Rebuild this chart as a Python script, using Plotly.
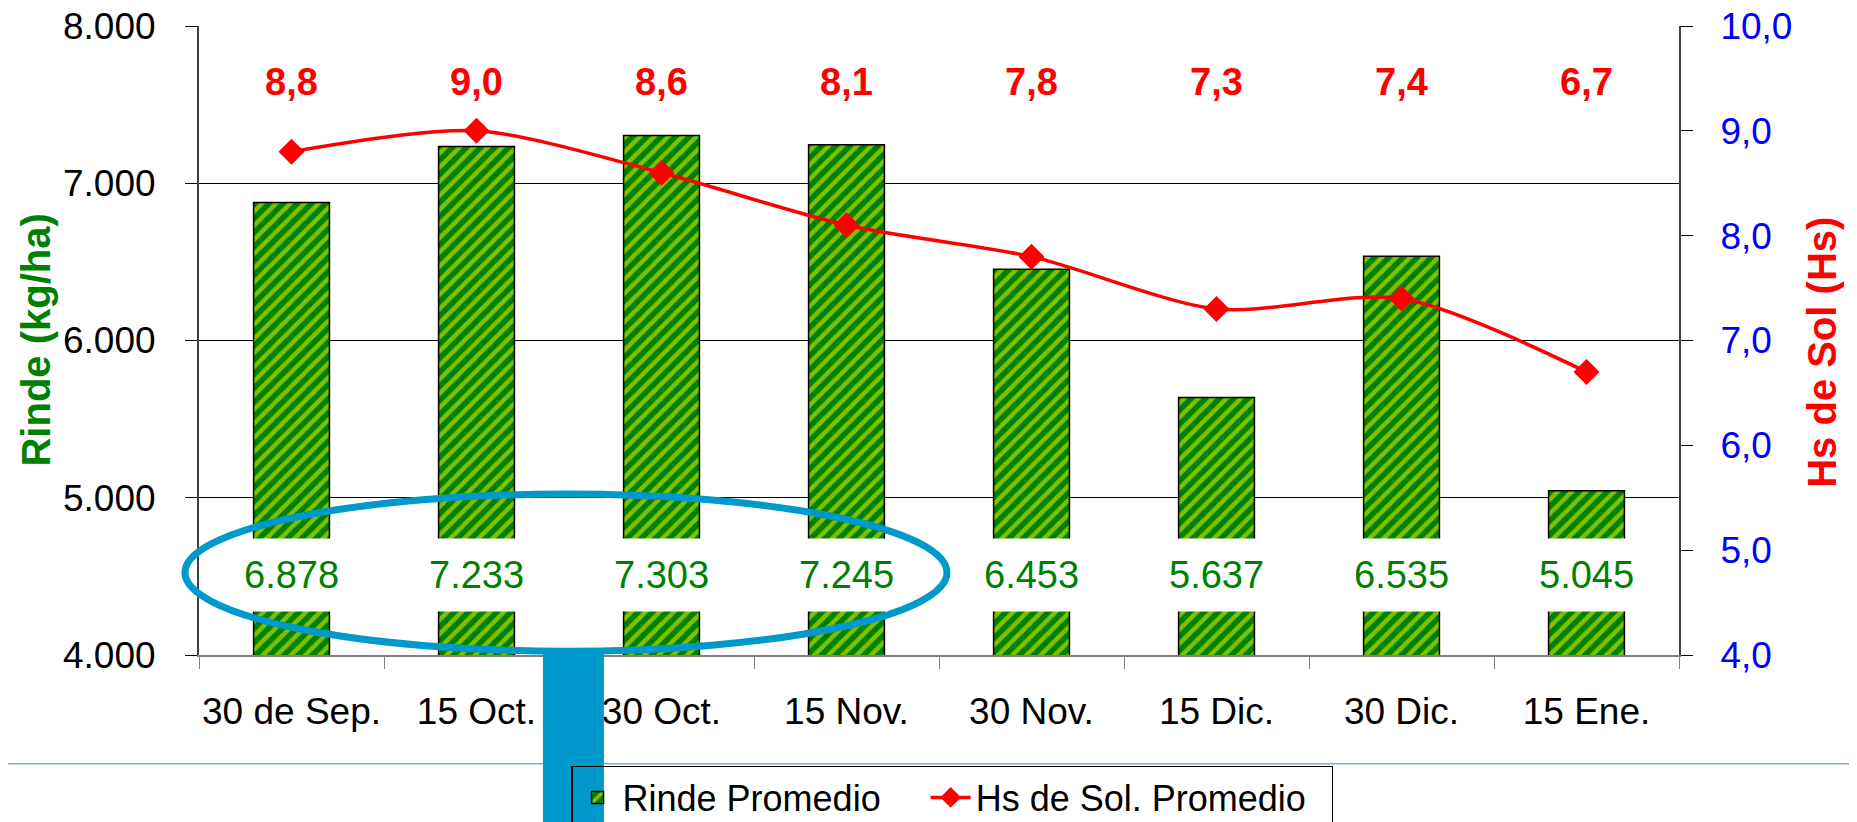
import plotly.graph_objects as go

# Datos del gráfico
fechas = ["30 de Sep.", "15 Oct.", "30 Oct.", "15 Nov.", "30 Nov.", "15 Dic.", "30 Dic.", "15 Ene."]
rinde = [6878, 7233, 7303, 7245, 6453, 5637, 6535, 5045]
horas_sol = [8.8, 9.0, 8.6, 8.1, 7.8, 7.3, 7.4, 6.7]

FONT = "Liberation Sans, Arial, sans-serif"
VERDE = "#008000"
ROJO = "#FF0000"
AZUL = "#0099CC"
NBSP = "\u00a0"

fig = go.Figure()

fig.add_bar(
    x=fechas, y=rinde, name="Rinde Promedio" + NBSP * 4,
    width=0.41,
    marker=dict(
        color=VERDE,
        line=dict(color="black", width=1.5),
        pattern=dict(shape="/", bgcolor=VERDE, fgcolor="#FFFF00", size=10, solidity=0.45),
    ),
)

fig.add_scatter(
    x=fechas, y=horas_sol, name="Hs de Sol. Promedio" + NBSP * 2, yaxis="y2",
    mode="lines+markers",
    line=dict(color=ROJO, width=3.5, shape="spline", smoothing=0.8),
    marker=dict(symbol="diamond", size=20, color=ROJO),
)

# etiquetas de rinde: recuadro blanco del ancho de la barra + texto encima
for f, v in zip(fechas, rinde):
    fig.add_annotation(
        x=f, y=4510, xref="x", yref="y", text=" ",
        showarrow=False, bgcolor="white", width=78, height=70,
    )
    fig.add_annotation(
        x=f, y=4510, xref="x", yref="y",
        text=f"{v:,}".replace(",", "."),
        showarrow=False,
        font=dict(family=FONT, size=38, color=VERDE),
    )

# etiquetas de horas de sol (arriba)
for f, h in zip(fechas, horas_sol):
    fig.add_annotation(
        x=f, y=9.47, xref="x", yref="y2",
        text=f"<b>{h:.1f}</b>".replace(".", ","),
        showarrow=False,
        font=dict(family=FONT, size=38, color=ROJO),
    )

# títulos de ejes
fig.add_annotation(
    x=-0.1108, y=0.50, xref="paper", yref="paper", textangle=-90,
    xanchor="center", yanchor="middle",
    text="<b>Rinde (kg/ha)</b>", showarrow=False,
    font=dict(family=FONT, size=40, color=VERDE),
)
fig.add_annotation(
    x=1.0966, y=0.482, xref="paper", yref="paper", textangle=-90,
    xanchor="center", yanchor="middle",
    text="<b>Hs de Sol (Hs)</b>", showarrow=False,
    font=dict(family=FONT, size=40, color=ROJO),
)

# elementos de la diapositiva: elipse, barra azul y línea
fig.add_shape(type="line", xref="paper", yref="paper",
              x0=-0.2, x1=1.3, y0=-0.173, y1=-0.173,
              line=dict(color="#7FB2C8", width=1.5))
fig.add_shape(type="circle", xref="paper", yref="paper",
              x0=-0.0095, x1=0.5054, y0=0.006, y1=0.256,
              line=dict(color=AZUL, width=7), layer="above")
fig.add_shape(type="rect", xref="paper", yref="paper",
              x0=0.2324, x1=0.2736, y0=-0.33, y1=0.0095,
              fillcolor=AZUL, line=dict(width=0), layer="above")

# la página añade 8 px de margen: figura de 1849x814
fig.update_layout(
    width=1849, height=814,
    margin=dict(l=191, r=178, t=18, b=167, autoexpand=False),
    plot_bgcolor="white", paper_bgcolor="white",
    separators=",.",
    font=dict(family=FONT, size=36, color="black"),
    showlegend=True,
    legend=dict(
        orientation="h", xref="container", yref="container",
        x=0.3045, xanchor="left", y=0.0688, yanchor="top",
        bgcolor="rgba(255,255,255,0)", bordercolor="black", borderwidth=1.5,
        font=dict(family=FONT, size=36, color="black"),
        itemwidth=40,
    ),
    xaxis=dict(
        range=[-0.5, 7.5], tickson="boundaries", ticks="outside", ticklen=12,
        tickcolor="#808080", showline=True, linecolor="#808080", linewidth=2,
        tickfont=dict(family=FONT, size=37, color="black"), tickangle=0,
        ticklabelstandoff=23, showgrid=False, automargin=False,
    ),
    yaxis=dict(
        range=[4000, 8000], dtick=1000, tickformat=",d",
        showgrid=True, gridcolor="black", gridwidth=1,
        showline=True, linecolor="#404040", linewidth=2,
        ticks="outside", ticklen=12, tickcolor="black",
        tickfont=dict(family=FONT, size=37, color="black"),
        ticklabelstandoff=22, zeroline=False, automargin=False,
        ticklabeloverflow="allow",
    ),
    yaxis2=dict(
        overlaying="y", side="right", range=[4, 10], dtick=1, tickformat=".1f",
        showgrid=False, showline=True, linecolor="#404040", linewidth=2,
        ticks="outside", ticklen=12, tickcolor="black",
        tickfont=dict(family=FONT, size=37, color="#0000FF"),
        ticklabelstandoff=20, zeroline=False, automargin=False,
        ticklabeloverflow="allow",
    ),
)

fig.write_html("out.html")
